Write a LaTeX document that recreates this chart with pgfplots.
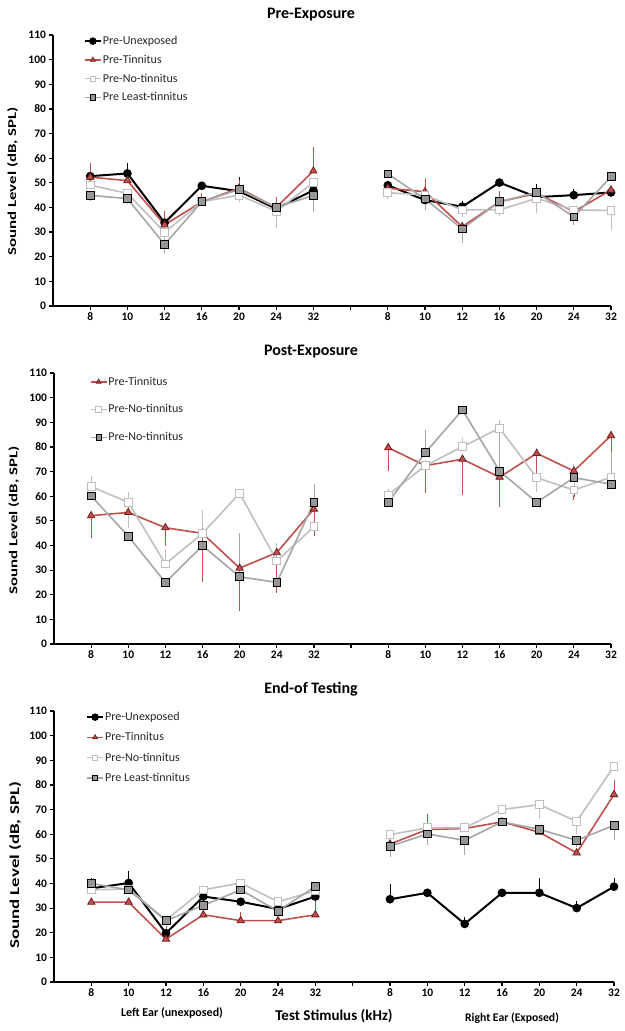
\documentclass[border=0pt]{standalone}
\usepackage{pgfplots}
\pgfplotsset{compat=1.18}
\usepackage{fontspec}
\setmainfont{Carlito}
\newfontfamily\stretchfont[FakeStretch=1.4]{Carlito}
\definecolor{tred}{RGB}{192,80,77}
\definecolor{tredd}{RGB}{110,30,30}
\definecolor{lgray}{RGB}{191,191,191}
\definecolor{mgray}{RGB}{166,166,166}
\definecolor{sgray}{RGB}{150,150,150}
\pgfplotsset{
 table/x=x, table/y=y, table/y error plus=ep, table/y error minus=em,
 panel/.style={scale only axis, height=271pt, xmin=0, xmax=15, ymin=0, ymax=110,
  axis lines=left, axis line style={-, line width=1.6pt},
  xtick={1,...,15}, xticklabels={8,10,12,16,20,24,32,{},8,10,12,16,20,24,32},
  ytick={0,10,...,110},
  tick align=outside, major tick length=3.5pt, tick style={line width=1.2pt,black},
  ticklabel style={font=\fontsize{11.5}{13}\selectfont\bfseries},
  /pgf/number format/assume math mode=true,
  ylabel={Sound Level (dB, SPL)},
  ylabel style={font=\fontsize{12}{14}\selectfont\stretchfont\bfseries, anchor=center},
  unbounded coords=jump, clip=false,
  legend style={draw=none, fill=none, anchor=north west, font=\fontsize{12}{14}\selectfont, text=black!85, inner sep=0pt, nodes={inner sep=1pt}},
  legend cell align=left,
  legend image code/.code={\draw[mark repeat=2,mark phase=2, mark size=2.7pt] plot coordinates {(0pt,0pt) (8pt,0pt) (16pt,0pt)};},
 },
 eb/.style={error bars/y dir=both, error bars/y explicit,
   error bars/error bar style={line width=0.7pt, color=#1},
   error bars/error mark options={line width=0.8pt, color=#1, mark size=2.2pt}},
 sblack/.style={black, line width=2pt, mark=*, mark size=3.3pt, mark options={solid, fill=black, draw=black}, eb=black},
 sred/.style={tred, line width=1.6pt, mark=triangle*, mark size=4.2pt, mark options={solid, fill=tred, draw=tredd, line width=0.8pt}, eb=tred},
 swhite/.style={lgray, line width=1.6pt, mark=square*, mark size=3.9pt, mark options={solid, fill=white, draw=lgray, line width=0.9pt}, eb=lgray},
 sgrey/.style={mgray, line width=1.6pt, mark=square*, mark size=3.9pt, mark options={solid, fill=sgray, draw=black, line width=0.8pt}, eb=mgray},
}
\begin{document}
\begin{tikzpicture}
\useasboundingbox (0,0) rectangle (624pt,-1031pt);
% ---------------- Panel 1
\node[font=\fontsize{16}{18}\selectfont\bfseries] at (311pt,-15pt) {Pre-Exposure};
\begin{axis}[panel, width=558pt, at={(53pt,-306pt)}, anchor=south west,
  ylabel style={at={(axis description cs:-0.0726,0.46)}},
  legend style={at={(0.055,1.0)}, row sep=7pt}]
\addplot[sblack] table {
x y ep em
1 52.7 0 0
2 53.8 3.5 0
3 33.8 0 0
4 48.8 0 0
5 46.6 4.8 0
6 39.5 0 0
7 47.0 0 0
8 nan 0 0
9 49.0 1 0
10 43.0 0 0
11 40.3 1.5 0
12 50.1 0 0
13 44.2 4.5 0
14 45.0 1.5 0
15 46.1 1 0
};
\addlegendentry{Pre-Unexposed}
\addplot[sred] table {
x y ep em
1 52.3 4.7 0
2 50.9 0 0
3 32.9 4.7 0
4 42.3 2.7 0
5 47.8 2.5 0
6 40.0 3.5 0
7 54.8 8.7 0
8 nan 0 0
9 47.8 0 0
10 46.4 4.5 0
11 32.2 0 0
12 42.3 3.4 0
13 45.7 0 0
14 38.3 0 0
15 47.1 0 0
};
\addlegendentry{Pre-Tinnitus}
\addplot[swhite] table {
x y ep em
1 49.1 0 0
2 45.7 0 0
3 29.9 0 7.5
4 42.3 0 1
5 45.0 0 2
6 38.5 0 6
7 50.1 0 0
8 nan 0 0
9 46.0 0 1.5
10 45.0 0 4
11 39.0 0 2
12 39.0 0 1.5
13 43.7 0 5
14 39.0 0 0
15 38.8 0 7
};
\addlegendentry{Pre-No-tinnitus}
\addplot[sgrey] table {
x y ep em
1 44.9 0 1.5
2 43.6 0 1.5
3 25.0 0 2.5
4 42.3 0 0
5 47.3 0 0
6 40.0 0 0
7 44.9 0 6
8 nan 0 0
9 53.6 0 0
10 43.5 0 3.5
11 31.3 0 5
12 42.3 0 0
13 46.1 0 0
14 36.2 0 2.5
15 52.5 0 0
};
\addlegendentry{Pre Least-tinnitus}
\end{axis}
% ---------------- Panel 2
\node[font=\fontsize{16}{18}\selectfont\bfseries] at (311pt,-352pt) {Post-Exposure};
\begin{axis}[panel, width=557pt, at={(54pt,-644pt)}, anchor=south west,
  ylabel style={at={(axis description cs:-0.072,0.455)}},
  legend style={at={(0.064,0.99)}, row sep=16pt}]
\addplot[sred] table {
x y ep em
1 52.1 0 8
2 53.4 0 0
3 47.2 0 6.7
4 44.9 0 18.9
5 30.8 0 16.7
6 37.1 0 15.5
7 54.8 0 10
8 nan 0 0
9 79.7 0 8.4
10 72.4 0 10.2
11 75.0 0 13.6
12 67.7 0 11.3
13 77.4 0 14
14 70.2 0 10.7
15 84.6 0 7
};
\addlegendentry{Pre-Tinnitus}
\addplot[swhite] table {
x y ep em
1 63.9 3.6 0
2 57.5 3.4 9.7
3 32.5 5 0
4 44.9 8.8 0
5 61.2 1 0
6 33.7 6.5 0
7 47.6 0 0
8 nan 0 0
9 60.5 1.5 0
10 72.4 0 0
11 80.1 2.5 0
12 87.6 2.5 0
13 67.5 0 5
14 62.5 9.5 0
15 67.7 0 0
};
\addlegendentry{Pre-No-tinnitus}
\addplot[sgrey] table {
x y ep em
1 60.1 0 0
2 43.8 0 0
3 25.0 0 0
4 39.9 0 0
5 27.3 16.7 0
6 25.0 0 0
7 57.5 6.4 0
8 nan 0 0
9 57.5 0 0
10 77.7 8.2 0
11 95.0 0 0
12 70.2 17.4 0
13 57.5 0 0
14 67.5 0 0
15 64.9 12 0
};
\addlegendentry{Pre-No-tinnitus}
\end{axis}
% ---------------- Panel 3
\node[font=\fontsize{16}{18}\selectfont\bfseries] at (311pt,-689pt) {End-of Testing};
\begin{axis}[panel, width=560pt, at={(54pt,-982pt)}, anchor=south west,
  ylabel style={font=\fontsize{13.5}{15}\selectfont\stretchfont\bfseries, at={(axis description cs:-0.0696,0.43)}},
  legend style={at={(0.057,1.0)}, row sep=8.5pt}]
\addplot[sblack] table {
x y ep em
1 38.0 3.5 0
2 40.2 3.8 0
3 19.8 0 0
4 34.7 0 0
5 32.6 0 0
6 29.6 0 0
7 34.7 0 0
8 nan 0 0
9 33.6 5.2 0
10 36.2 0.5 0
11 23.6 1.9 0
12 36.2 0 0
13 36.2 5 0
14 30.0 2 0
15 38.7 2.5 0
};
\addlegendentry{Pre-Unexposed}
\addplot[sred] table {
x y ep em
1 32.4 0 0
2 32.4 0 0
3 17.4 4.5 0
4 27.3 0 0
5 24.9 2.6 0
6 24.9 0 0
7 27.3 5 0
8 nan 0 0
9 56.0 0 0
10 61.9 5.4 0
11 62.3 0 0
12 65.0 0 0
13 60.8 0 0
14 52.4 0 0
15 76.1 5 0
};
\addlegendentry{Pre-Tinnitus}
\addplot[swhite] table {
x y ep em
1 37.4 0 0
2 37.8 0 0
3 25.2 0 0
4 37.4 0 0
5 40.2 0 0
6 32.6 0 0
7 37.0 0 0
8 nan 0 0
9 59.8 0 0
10 62.6 0 0
11 62.6 0 0
12 70.0 0 0
13 72.0 0 5
14 65.2 0 4.2
15 87.6 0 0
};
\addlegendentry{Pre-No-tinnitus}
\addplot[sgrey] table {
x y ep em
1 40.0 0 0
2 37.4 0 0
3 24.9 0 0
4 31.1 0 0
5 37.4 0 0
6 28.8 0 0
7 38.8 0 0
8 nan 0 0
9 55.1 0 3.6
10 60.1 0 3.6
11 57.5 0 5.1
12 65.0 0 0
13 62.0 0 0
14 57.5 0 2
15 63.6 0 4.9
};
\addlegendentry{Pre Least-tinnitus}
\end{axis}
\node[font=\fontsize{12}{14}\selectfont\bfseries] at (172pt,-1013pt) {Left Ear (unexposed)};
\node[font=\fontsize{15}{17}\selectfont\bfseries] at (334pt,-1016pt) {Test Stimulus (kHz)};
\node[font=\fontsize{11.7}{14}\selectfont\bfseries] at (512pt,-1018pt) {Right Ear (Exposed)};
\end{tikzpicture}
\end{document}
